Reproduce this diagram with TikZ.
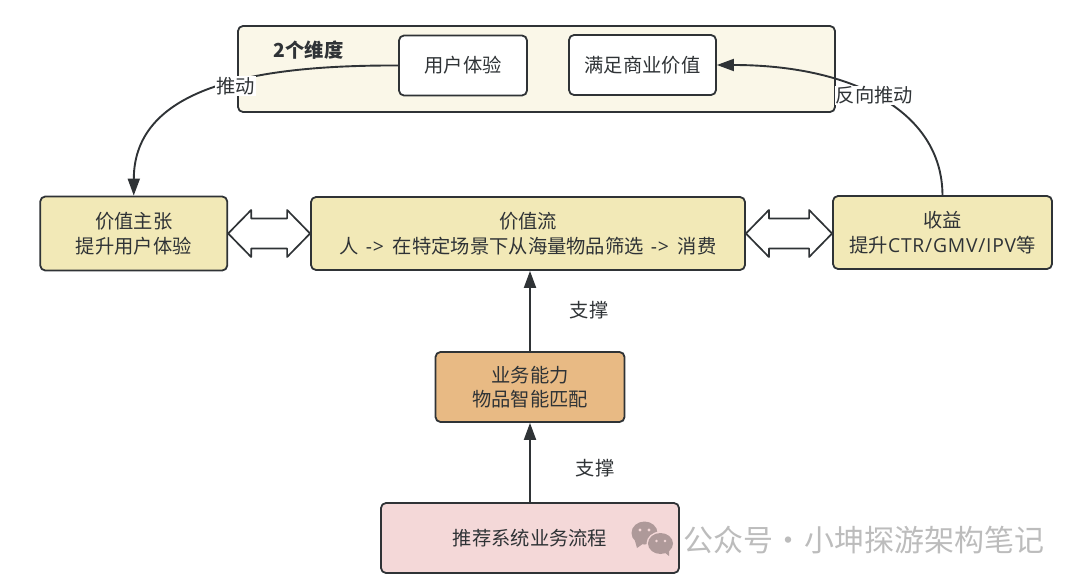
\documentclass[tikz,border=0pt]{standalone}
\usepackage{fontspec}
\setmainfont{Noto Sans CJK SC}
\newfontfamily\latinfont[LetterSpace=4]{Open Sans}
\usetikzlibrary{arrows.meta,calc}
\definecolor{linegray}{HTML}{2F3336}
\definecolor{panelfill}{HTML}{FAF7E8}
\definecolor{yellowfill}{HTML}{F2E9B7}
\definecolor{orangefill}{HTML}{E8BA84}
\definecolor{pinkfill}{HTML}{F4D8D8}
\definecolor{markgray}{HTML}{BCBCBC}
\definecolor{iconfill}{HTML}{AE9999}
\tikzset{
	box/.style={draw=linegray, line width=1.8pt, rounded corners=5pt, align=center, inner sep=0pt},
	linklabel/.style={fill=white, inner sep=1pt},
	link/.style={draw=linegray, line width=1.9pt, -{Triangle[length=17pt,width=12pt]}},
	fatarrow/.style={draw=linegray, fill=white, line width=1.7pt, line join=round, to path={
		(\tikztostart) -- ++(23,-23.5) -- ++(0,8.5) -- ($(\tikztotarget)+(-23,-15)$) -- ++(0,-8.5) -- (\tikztotarget)
		-- ++(-23,23.5) -- ++(0,-8.5) -- ($(\tikztostart)+(23,15)$) -- ++(0,8.5) -- cycle}}
}
\begin{document}
\begin{tikzpicture}[x=1pt, y=-1pt, font=\fontsize{19.3}{24.5}\selectfont, text=linegray, line join=round]
	\useasboundingbox (0,0) rectangle (1080,583);
	\node (panel) at (536.5,69) [box, fill=panelfill, minimum width=597pt, minimum height=86pt] {};
	\node (title) at (308.5,50) {\bfseries 2个维度};
	\node (tiyan) at (463,65.5) [box, fill=white, minimum width=128pt, minimum height=60pt] {用户体验};
	\node (shangye) at (642.5,65) [box, fill=white, minimum width=147pt, minimum height=60pt] {满足商业价值};
	\node (zhuzhang) at (133.75,233.5) [box, fill=yellowfill, minimum width=187pt, minimum height=74pt] {价值主张\\提升用户体验};
	\node (liu) at (528,233.5) [box, fill=yellowfill, minimum width=434pt, minimum height=73pt] {价值流\\人\hspace{7pt}{\latinfont ->}\hspace{9pt}在特定场景下从海量物品筛选\hspace{7pt}{\latinfont ->}\hspace{9pt}消费};
	\node (shouyi) at (942.5,232.5) [box, fill=yellowfill, minimum width=219pt, minimum height=73pt] {收益\\提升{\latinfont CTR/GMV/IPV}等};
	\node (nengli) at (530,387) [box, fill=orangefill, minimum width=189pt, minimum height=70pt] {业务能力\\物品智能匹配};
	\node (liucheng) at (530,538) [box, fill=pinkfill, minimum width=298pt, minimum height=70pt] {推荐系统业务流程};
	\draw[link] (tiyan.west) .. controls (260,65) and (134,85) .. (zhuzhang.north) node[pos=.43, yshift=-4pt, linklabel] (tuidong) {推动};
	\draw[link] (shouyi.north) .. controls (942,110) and (850,65) .. (shangye.east) node[pos=.52, linklabel] (fanxiang) {反向推动};
	\draw[fatarrow] (zhuzhang.east) to (liu.west);
	\draw[fatarrow] (liu.east) to (liu.east -| shouyi.west);
	\draw[link] (nengli.north) -- (nengli.north |- liu.south);
	\draw[link] (liucheng.north) -- (liucheng.north |- nengli.south);
	\node (zhicheng) at (589,310) {支撑};
	\node (zhichengb) at (595,468) {支撑};
	\fill[iconfill] (644.5,533) ellipse (13pt and 11.5pt);
	\fill[iconfill] (635,541) -- (637,548) -- (644,543) -- cycle;
	\fill[pinkfill] (660.5,543.5) ellipse (14pt and 12pt);
	\fill[iconfill] (660.5,543.5) ellipse (12.5pt and 10.5pt);
	\fill[iconfill] (664,552) -- (669,556) -- (669,549) -- cycle;
	\fill[pinkfill] (640,530) circle (1.6pt) (649,530) circle (1.6pt) (656.5,541) circle (1.4pt) (665,541) circle (1.4pt);
	\node (mark) at (864,540) [font=\fontsize{30}{31}\selectfont, text=markgray] {公众号\hspace{1pt}·\hspace{1pt}小坤探游架构笔记};
\end{tikzpicture}
\end{document}
